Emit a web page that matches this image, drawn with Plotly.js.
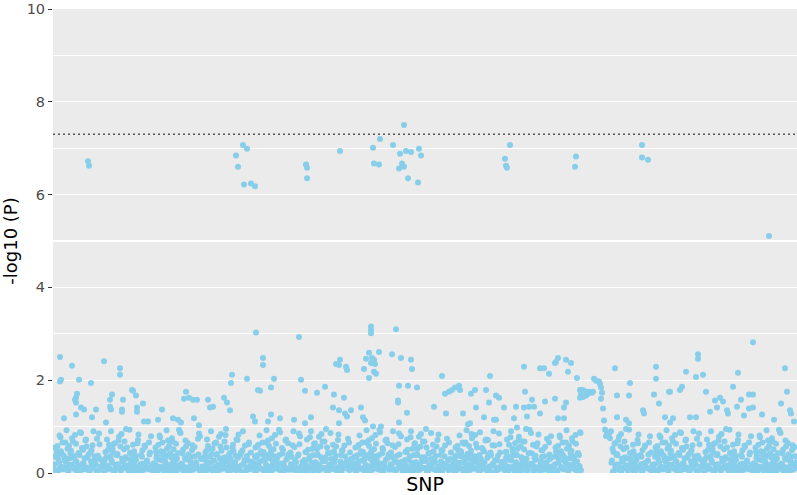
<!DOCTYPE html>
<html>
<head>
<meta charset="utf-8">
<script src="https://cdn.plot.ly/plotly-3.0.1.min.js"></script>
<style>html,body{margin:0;padding:0;background:#fff;}#chart{width:797px;height:495px;}</style>
</head>
<body>
<div id="chart"></div>
<script>
// SNP index (x) and -log10(P) (y)
const peakSnp = [70,72,366,370,380,388,382,396,404,506,508,508,574,640,654,642,652,680,702,694,706,716,698,702,692,710,732,736,730,914,904,906,908,1046,1044,1178,1178,1190,1432];
const peakP   = [6.72,6.62,6.84,6.60,7.07,6.99,6.22,6.24,6.18,6.65,6.58,6.35,6.94,7.01,7.20,6.67,6.65,7.07,7.50,6.88,6.94,6.92,6.67,6.60,6.56,6.35,6.99,6.84,6.26,7.07,6.77,6.62,6.58,6.82,6.60,7.07,6.80,6.75,5.11];

const midSnp = [14,38,16,14,52,76,102,134,134,158,160,166,140,118,114,114,116,138,138,48,46,44,46,56,62,46,22,78,86,106,168,168,180,182,190,210,218,240,250,256,266,262,272,280,288,282,292,310,314,320,342,348,354,358,356,
406,492,636,636,636,686,632,652,626,638,642,636,644,622,642,646,632,678,696,716,718,420,420,566,574,572,586,588,388,442,496,410,414,436,504,528,544,562,582,692,710,728,690,690,708,560,572,584,588,596,616,620,624,572,516,482,454,436,400,404,430,504,692,640,656,
778,874,942,974,982,992,1004,1010,1006,1026,1036,1030,1048,1082,1086,1092,1094,1096,1098,1096,1100,1054,1060,1068,1074,1080,1056,1062,1070,1078,1054,1060,1066,1124,762,786,784,792,798,804,812,814,820,836,844,866,872,846,886,892,902,926,944,958,942,952,962,922,928,948,974,984,1004,1026,1022,1010,1022,882,886,862,830,834,1102,1104,1108,1112,1106,1114,
1400,1290,1290,1206,1206,1266,1286,1300,1370,1464,1154,1152,1202,1212,1180,1182,1232,1234,1254,1258,1306,1324,1334,1340,1328,1314,1348,1350,1360,1376,1368,1392,1400,1392,1400,1382,1418,1442,1456,1468,1474,1476,1482,1224,1234,1240,1274,1286,1146,1152,1128,1128];
const midP = [2.50,2.31,2.01,1.97,2.01,1.94,2.41,2.26,2.12,1.79,1.77,1.67,1.58,1.69,1.58,1.43,1.37,1.37,1.32,1.71,1.62,1.58,1.52,1.41,1.37,1.26,1.18,1.20,1.37,1.09,1.41,1.32,1.50,1.11,1.11,1.15,1.37,1.18,1.15,1.09,1.75,1.60,1.62,1.58,1.58,1.18,1.03,1.58,1.41,1.43,1.62,1.52,1.35,2.12,1.94,
3.03,2.93,3.16,3.08,3.01,3.10,2.59,2.61,2.46,2.48,2.44,2.37,2.35,2.24,2.18,2.14,2.05,2.56,2.48,2.44,2.24,2.48,2.33,2.35,2.44,2.33,2.29,2.22,2.03,2.03,2.01,1.79,1.77,1.84,1.77,1.73,1.86,1.69,1.62,1.88,1.88,1.84,1.56,1.52,1.30,1.41,1.35,1.28,1.22,1.35,1.41,1.20,1.13,1.07,1.20,1.15,1.18,1.26,1.22,1.11,1.11,1.07,1.09,1.00,1.00,
2.09,2.09,2.29,2.26,2.26,2.14,2.37,2.48,2.39,2.44,2.37,2.18,2.05,2.03,1.99,1.97,1.92,1.84,1.73,1.60,1.39,1.79,1.79,1.75,1.75,1.75,1.71,1.69,1.71,1.73,1.62,1.64,1.67,2.26,1.43,1.28,1.71,1.75,1.79,1.84,1.88,1.79,1.28,1.71,1.79,1.79,1.52,1.41,1.67,1.62,1.41,1.43,1.75,1.58,1.41,1.43,1.43,1.18,0.98,1.22,1.28,1.54,1.60,1.52,1.41,1.18,1.18,1.15,1.15,1.20,1.05,1.07,1.13,0.94,0.88,0.85,0.80,0.75,
2.82,2.56,2.46,2.29,2.03,2.18,2.07,2.12,2.16,2.26,1.94,1.67,1.69,1.50,1.35,1.28,1.75,1.75,1.79,1.86,1.75,1.56,1.62,1.54,1.41,1.32,1.35,1.28,1.86,1.58,1.43,1.69,1.69,1.39,1.41,1.24,1.26,1.15,1.50,1.75,1.35,1.28,1.11,1.20,1.09,1.18,1.20,1.20,1.15,1.07,1.67,1.20];

// scattered SNPs in the 0.3 - 1.0 band
const bandSnp = [
5,8,13,16,19,24,27,32,35,38,43,46,54,60,65,71,79,92,
105,108,113,116,119,124,127,132,135,138,143,146,154,160,165,171,179,192,
205,208,213,216,219,224,227,232,235,238,243,246,254,260,265,271,279,292,
305,308,313,316,319,324,327,332,335,338,343,346,354,360,365,371,379,392,
405,408,413,416,419,424,427,432,435,438,443,446,454,460,465,471,479,492,
505,508,513,516,519,524,527,532,535,538,543,546,554,560,565,571,579,592,
605,608,613,616,619,624,627,632,635,638,643,646,654,660,665,671,679,692,
705,708,713,716,719,724,727,732,735,738,743,746,754,760,765,771,779,792,
805,808,813,816,819,824,827,832,835,838,843,846,854,860,865,871,879,892,
905,908,913,916,919,924,927,932,935,938,943,946,954,960,965,971,979,992,
1005,1008,1013,1016,1019,1024,1027,1032,1035,1038,1043,1046,1054,
1116,1119,1124,1127,1132,1135,1138,1143,1146,1154,1160,1165,1171,1179,1192,
1205,1208,1213,1216,1219,1224,1227,1232,1235,1238,1243,1246,1254,1260,1265,1271,1279,1292,
1305,1308,1313,1316,1319,1324,1327,1332,1335,1338,1343,1346,1354,1360,1365,1371,1379,1392,
1405,1408,1413,1416,1419,1424,1427,1432,1435,1438,1443,1446,1454,1460,1465,1471,1479
];
const bandP = [
0.55,0.38,0.81,0.47,0.66,0.33,0.92,0.58,0.42,0.75,0.36,0.63,0.88,0.5,0.7,0.4,0.6,0.85,
0.45,0.72,0.35,0.9,0.52,0.64,0.39,0.78,0.57,0.31,0.68,0.95,0.43,0.61,0.37,0.83,0.49,0.66,
0.55,0.38,0.81,0.47,0.66,0.33,0.92,0.58,0.42,0.75,0.36,0.63,0.88,0.5,0.7,0.4,0.6,0.85,
0.45,0.72,0.35,0.9,0.52,0.64,0.39,0.78,0.57,0.31,0.68,0.95,0.43,0.61,0.37,0.83,0.49,0.66,
0.55,0.38,0.81,0.47,0.66,0.33,0.92,0.58,0.42,0.75,0.36,0.63,0.88,0.5,0.7,0.4,0.6,0.85,
0.45,0.72,0.35,0.9,0.52,0.64,0.39,0.78,0.57,0.31,0.68,0.95,0.43,0.61,0.37,0.83,0.49,0.66,
0.55,0.38,0.81,0.47,0.66,0.33,0.92,0.58,0.42,0.75,0.36,0.63,0.88,0.5,0.7,0.4,0.6,0.85,
0.45,0.72,0.35,0.9,0.52,0.64,0.39,0.78,0.57,0.31,0.68,0.95,0.43,0.61,0.37,0.83,0.49,0.66,
0.55,0.38,0.81,0.47,0.66,0.33,0.92,0.58,0.42,0.75,0.36,0.63,0.88,0.5,0.7,0.4,0.6,0.85,
0.45,0.72,0.35,0.9,0.52,0.64,0.39,0.78,0.57,0.31,0.68,0.95,0.43,0.61,0.37,0.83,0.49,0.66,
0.55,0.38,0.81,0.47,0.66,0.33,0.92,0.58,0.42,0.75,0.36,0.63,0.88,
0.9,0.52,0.64,0.39,0.78,0.57,0.31,0.68,0.95,0.43,0.61,0.37,0.83,0.49,0.66,
0.55,0.38,0.81,0.47,0.66,0.33,0.92,0.58,0.42,0.75,0.36,0.63,0.88,0.5,0.7,0.4,0.6,0.85,
0.45,0.72,0.35,0.9,0.52,0.64,0.39,0.78,0.57,0.31,0.68,0.95,0.43,0.61,0.37,0.83,0.49,0.66,
0.55,0.38,0.81,0.47,0.66,0.33,0.92,0.58,0.42,0.75,0.36,0.63,0.88,0.5,0.7,0.4,0.6
];

const lowSnp = [
1,4,6,9,12,14,17,20,23,25,28,31,33,36,39,42,44,47,50,53,55,58,61,64,66,69,72,75,78,81,84,87,90,93,96,99,
2,3,7,10,11,15,18,21,22,26,29,30,34,37,40,41,45,48,51,52,56,59,62,63,67,70,73,76,77,80,83,86,88,91,94,97,
101,104,106,109,112,114,117,120,123,125,128,131,133,136,139,142,144,147,150,153,155,158,161,164,166,169,172,175,178,181,184,187,190,193,196,199,
102,103,107,110,111,115,118,121,122,126,129,130,134,137,140,141,145,148,151,152,156,159,162,163,167,170,173,176,177,180,183,186,188,191,194,197,
201,204,206,209,212,214,217,220,223,225,228,231,233,236,239,242,244,247,250,253,255,258,261,264,266,269,272,275,278,281,284,287,290,293,296,299,
202,203,207,210,211,215,218,221,222,226,229,230,234,237,240,241,245,248,251,252,256,259,262,263,267,270,273,276,277,280,283,286,288,291,294,297,
301,304,306,309,312,314,317,320,323,325,328,331,333,336,339,342,344,347,350,353,355,358,361,364,366,369,372,375,378,381,384,387,390,393,396,399,
302,303,307,310,311,315,318,321,322,326,329,330,334,337,340,341,345,348,351,352,356,359,362,363,367,370,373,376,377,380,383,386,388,391,394,397,
401,404,406,409,412,414,417,420,423,425,428,431,433,436,439,442,444,447,450,453,455,458,461,464,466,469,472,475,478,481,484,487,490,493,496,499,
402,403,407,410,411,415,418,421,422,426,429,430,434,437,440,441,445,448,451,452,456,459,462,463,467,470,473,476,477,480,483,486,488,491,494,497,
501,504,506,509,512,514,517,520,523,525,528,531,533,536,539,542,544,547,550,553,555,558,561,564,566,569,572,575,578,581,584,587,590,593,596,599,
502,503,507,510,511,515,518,521,522,526,529,530,534,537,540,541,545,548,551,552,556,559,562,563,567,570,573,576,577,580,583,586,588,591,594,597,
601,604,606,609,612,614,617,620,623,625,628,631,633,636,639,642,644,647,650,653,655,658,661,664,666,669,672,675,678,681,684,687,690,693,696,699,
602,603,607,610,611,615,618,621,622,626,629,630,634,637,640,641,645,648,651,652,656,659,662,663,667,670,673,676,677,680,683,686,688,691,694,697,
701,704,706,709,712,714,717,720,723,725,728,731,733,736,739,742,744,747,750,753,755,758,761,764,766,769,772,775,778,781,784,787,790,793,796,799,
702,703,707,710,711,715,718,721,722,726,729,730,734,737,740,741,745,748,751,752,756,759,762,763,767,770,773,776,777,780,783,786,788,791,794,797,
801,804,806,809,812,814,817,820,823,825,828,831,833,836,839,842,844,847,850,853,855,858,861,864,866,869,872,875,878,881,884,887,890,893,896,899,
802,803,807,810,811,815,818,821,822,826,829,830,834,837,840,841,845,848,851,852,856,859,862,863,867,870,873,876,877,880,883,886,888,891,894,897,
901,904,906,909,912,914,917,920,923,925,928,931,933,936,939,942,944,947,950,953,955,958,961,964,966,969,972,975,978,981,984,987,990,993,996,999,
902,903,907,910,911,915,918,921,922,926,929,930,934,937,940,941,945,948,951,952,956,959,962,963,967,970,973,976,977,980,983,986,988,991,994,997,
1001,1004,1006,1009,1012,1014,1017,1020,1023,1025,1028,1031,1033,1036,1039,1042,1044,1047,1050,1053,1055,
1002,1003,1007,1010,1011,1015,1018,1021,1022,1026,1029,1030,1034,1037,1040,1041,1045,1048,1051,1052,1056,
1117,1120,1123,1125,1128,1131,1133,1136,1139,1142,1144,1147,1150,1153,1155,1158,1161,1164,1166,1169,1172,1175,1178,1181,1184,1187,1190,1193,1196,1199,
1118,1121,1122,1126,1129,1130,1134,1137,1140,1141,1145,1148,1151,1152,1156,1159,1162,1163,1167,1170,1173,1176,1177,1180,1183,1186,1188,1191,1194,1197,
1201,1204,1206,1209,1212,1214,1217,1220,1223,1225,1228,1231,1233,1236,1239,1242,1244,1247,1250,1253,1255,1258,1261,1264,1266,1269,1272,1275,1278,1281,1284,1287,1290,1293,1296,1299,
1202,1203,1207,1210,1211,1215,1218,1221,1222,1226,1229,1230,1234,1237,1240,1241,1245,1248,1251,1252,1256,1259,1262,1263,1267,1270,1273,1276,1277,1280,1283,1286,1288,1291,1294,1297,
1301,1304,1306,1309,1312,1314,1317,1320,1323,1325,1328,1331,1333,1336,1339,1342,1344,1347,1350,1353,1355,1358,1361,1364,1366,1369,1372,1375,1378,1381,1384,1387,1390,1393,1396,1399,
1302,1303,1307,1310,1311,1315,1318,1321,1322,1326,1329,1330,1334,1337,1340,1341,1345,1348,1351,1352,1356,1359,1362,1363,1367,1370,1373,1376,1377,1380,1383,1386,1388,1391,1394,1397,
1401,1404,1406,1409,1412,1414,1417,1420,1423,1425,1428,1431,1433,1436,1439,1442,1444,1447,1450,1453,1455,1458,1461,1464,1466,1469,1472,1475,1478,1481,1484,1487,
1402,1403,1407,1410,1411,1415,1418,1421,1422,1426,1429,1430,1434,1437,1440,1441,1445,1448,1451,1452,1456,1459,1462,1463,1467,1470,1473,1476,1477,1480,1483,1486,1488
];
const lowP = [
0.12,0.35,0.05,0.58,0.22,0.1,0.41,0.08,0.27,0.66,0.15,0.04,0.31,0.48,0.18,0.09,0.82,0.25,0.13,0.39,0.06,0.54,0.21,0.11,0.72,0.33,0.07,0.44,0.16,0.9,0.28,0.05,0.37,0.62,0.14,0.24,
0.07,0.19,0.46,0.03,0.29,0.77,0.13,0.38,0.09,0.23,0.52,0.06,0.17,0.34,0.68,0.11,0.26,0.04,0.43,0.15,0.86,0.2,0.08,0.32,0.57,0.12,0.03,0.25,0.49,0.1,0.36,0.18,0.74,0.06,0.3,0.14,
0.21,0.06,0.33,0.14,0.61,0.09,0.27,0.45,0.04,0.18,0.38,0.7,0.12,0.05,0.24,0.51,0.16,0.31,0.08,0.93,0.2,0.42,0.03,0.13,0.29,0.64,0.1,0.19,0.35,0.07,0.56,0.23,0.11,0.4,0.79,0.05,
0.04,0.28,0.16,0.5,0.09,0.36,0.22,0.03,0.63,0.13,0.41,0.19,0.07,0.84,0.26,0.11,0.34,0.55,0.05,0.17,0.3,0.1,0.47,0.23,0.06,0.71,0.14,0.39,0.02,0.2,0.59,0.12,0.27,0.08,0.44,0.18,
0.07,0.19,0.46,0.03,0.29,0.77,0.13,0.38,0.09,0.23,0.52,0.06,0.17,0.34,0.68,0.11,0.26,0.04,0.43,0.15,0.86,0.2,0.08,0.32,0.57,0.12,0.03,0.25,0.49,0.1,0.36,0.18,0.74,0.06,0.3,0.14,
0.21,0.06,0.33,0.14,0.61,0.09,0.27,0.45,0.04,0.18,0.38,0.7,0.12,0.05,0.24,0.51,0.16,0.31,0.08,0.93,0.2,0.42,0.03,0.13,0.29,0.64,0.1,0.19,0.35,0.07,0.56,0.23,0.11,0.4,0.79,0.05,
0.04,0.28,0.16,0.5,0.09,0.36,0.22,0.03,0.63,0.13,0.41,0.19,0.07,0.84,0.26,0.11,0.34,0.55,0.05,0.17,0.3,0.1,0.47,0.23,0.06,0.71,0.14,0.39,0.02,0.2,0.59,0.12,0.27,0.08,0.44,0.18,
0.12,0.35,0.05,0.58,0.22,0.1,0.41,0.08,0.27,0.66,0.15,0.04,0.31,0.48,0.18,0.09,0.82,0.25,0.13,0.39,0.06,0.54,0.21,0.11,0.72,0.33,0.07,0.44,0.16,0.9,0.28,0.05,0.37,0.62,0.14,0.24,
0.12,0.35,0.05,0.58,0.22,0.1,0.41,0.08,0.27,0.66,0.15,0.04,0.31,0.48,0.18,0.09,0.82,0.25,0.13,0.39,0.06,0.54,0.21,0.11,0.72,0.33,0.07,0.44,0.16,0.9,0.28,0.05,0.37,0.62,0.14,0.24,
0.21,0.06,0.33,0.14,0.61,0.09,0.27,0.45,0.04,0.18,0.38,0.7,0.12,0.05,0.24,0.51,0.16,0.31,0.08,0.93,0.2,0.42,0.03,0.13,0.29,0.64,0.1,0.19,0.35,0.07,0.56,0.23,0.11,0.4,0.79,0.05,
0.07,0.19,0.46,0.03,0.29,0.77,0.13,0.38,0.09,0.23,0.52,0.06,0.17,0.34,0.68,0.11,0.26,0.04,0.43,0.15,0.86,0.2,0.08,0.32,0.57,0.12,0.03,0.25,0.49,0.1,0.36,0.18,0.74,0.06,0.3,0.14,
0.04,0.28,0.16,0.5,0.09,0.36,0.22,0.03,0.63,0.13,0.41,0.19,0.07,0.84,0.26,0.11,0.34,0.55,0.05,0.17,0.3,0.1,0.47,0.23,0.06,0.71,0.14,0.39,0.02,0.2,0.59,0.12,0.27,0.08,0.44,0.18,
0.21,0.06,0.33,0.14,0.61,0.09,0.27,0.45,0.04,0.18,0.38,0.7,0.12,0.05,0.24,0.51,0.16,0.31,0.08,0.93,0.2,0.42,0.03,0.13,0.29,0.64,0.1,0.19,0.35,0.07,0.56,0.23,0.11,0.4,0.79,0.05,
0.12,0.35,0.05,0.58,0.22,0.1,0.41,0.08,0.27,0.66,0.15,0.04,0.31,0.48,0.18,0.09,0.82,0.25,0.13,0.39,0.06,0.54,0.21,0.11,0.72,0.33,0.07,0.44,0.16,0.9,0.28,0.05,0.37,0.62,0.14,0.24,
0.04,0.28,0.16,0.5,0.09,0.36,0.22,0.03,0.63,0.13,0.41,0.19,0.07,0.84,0.26,0.11,0.34,0.55,0.05,0.17,0.3,0.1,0.47,0.23,0.06,0.71,0.14,0.39,0.02,0.2,0.59,0.12,0.27,0.08,0.44,0.18,
0.07,0.19,0.46,0.03,0.29,0.77,0.13,0.38,0.09,0.23,0.52,0.06,0.17,0.34,0.68,0.11,0.26,0.04,0.43,0.15,0.86,0.2,0.08,0.32,0.57,0.12,0.03,0.25,0.49,0.1,0.36,0.18,0.74,0.06,0.3,0.14,
0.12,0.35,0.05,0.58,0.22,0.1,0.41,0.08,0.27,0.66,0.15,0.04,0.31,0.48,0.18,0.09,0.82,0.25,0.13,0.39,0.06,0.54,0.21,0.11,0.72,0.33,0.07,0.44,0.16,0.9,0.28,0.05,0.37,0.62,0.14,0.24,
0.04,0.28,0.16,0.5,0.09,0.36,0.22,0.03,0.63,0.13,0.41,0.19,0.07,0.84,0.26,0.11,0.34,0.55,0.05,0.17,0.3,0.1,0.47,0.23,0.06,0.71,0.14,0.39,0.02,0.2,0.59,0.12,0.27,0.08,0.44,0.18,
0.21,0.06,0.33,0.14,0.61,0.09,0.27,0.45,0.04,0.18,0.38,0.7,0.12,0.05,0.24,0.51,0.16,0.31,0.08,0.93,0.2,0.42,0.03,0.13,0.29,0.64,0.1,0.19,0.35,0.07,0.56,0.23,0.11,0.4,0.79,0.05,
0.07,0.19,0.46,0.03,0.29,0.77,0.13,0.38,0.09,0.23,0.52,0.06,0.17,0.34,0.68,0.11,0.26,0.04,0.43,0.15,0.86,0.2,0.08,0.32,0.57,0.12,0.03,0.25,0.49,0.1,0.36,0.18,0.74,0.06,0.3,0.14,
0.07,0.19,0.46,0.03,0.29,0.77,0.13,0.38,0.09,0.23,0.52,0.06,0.17,0.34,0.68,0.11,0.26,0.04,0.43,0.15,0.86,
0.12,0.35,0.05,0.58,0.22,0.1,0.41,0.08,0.27,0.66,0.15,0.04,0.31,0.48,0.18,0.09,0.82,0.25,0.13,0.39,0.06,
0.22,0.03,0.63,0.13,0.41,0.19,0.07,0.84,0.26,0.11,0.34,0.55,0.05,0.17,0.3,0.1,0.47,0.23,0.06,0.71,0.14,0.39,0.02,0.2,0.59,0.12,0.27,0.08,0.44,0.18,
0.27,0.45,0.04,0.18,0.38,0.7,0.12,0.05,0.24,0.51,0.16,0.31,0.08,0.93,0.2,0.42,0.03,0.13,0.29,0.64,0.1,0.19,0.35,0.07,0.56,0.23,0.11,0.4,0.79,0.05,
0.12,0.35,0.05,0.58,0.22,0.1,0.41,0.08,0.27,0.66,0.15,0.04,0.31,0.48,0.18,0.09,0.82,0.25,0.13,0.39,0.06,0.54,0.21,0.11,0.72,0.33,0.07,0.44,0.16,0.9,0.28,0.05,0.37,0.62,0.14,0.24,
0.07,0.19,0.46,0.03,0.29,0.77,0.13,0.38,0.09,0.23,0.52,0.06,0.17,0.34,0.68,0.11,0.26,0.04,0.43,0.15,0.86,0.2,0.08,0.32,0.57,0.12,0.03,0.25,0.49,0.1,0.36,0.18,0.74,0.06,0.3,0.14,
0.21,0.06,0.33,0.14,0.61,0.09,0.27,0.45,0.04,0.18,0.38,0.7,0.12,0.05,0.24,0.51,0.16,0.31,0.08,0.93,0.2,0.42,0.03,0.13,0.29,0.64,0.1,0.19,0.35,0.07,0.56,0.23,0.11,0.4,0.79,0.05,
0.04,0.28,0.16,0.5,0.09,0.36,0.22,0.03,0.63,0.13,0.41,0.19,0.07,0.84,0.26,0.11,0.34,0.55,0.05,0.17,0.3,0.1,0.47,0.23,0.06,0.71,0.14,0.39,0.02,0.2,0.59,0.12,0.27,0.08,0.44,0.18,
0.07,0.19,0.46,0.03,0.29,0.77,0.13,0.38,0.09,0.23,0.52,0.06,0.17,0.34,0.68,0.11,0.26,0.04,0.43,0.15,0.86,0.2,0.08,0.32,0.57,0.12,0.03,0.25,0.49,0.1,0.36,0.18,
0.21,0.06,0.33,0.14,0.61,0.09,0.27,0.45,0.04,0.18,0.38,0.7,0.12,0.05,0.24,0.51,0.16,0.31,0.08,0.93,0.2,0.42,0.03,0.13,0.29,0.64,0.1,0.19,0.35,0.07,0.56,0.23,0.11
];

const yTicks = [0, 2, 4, 6, 8, 10];
const snpRange = [0, 1488];
const threshold = -Math.log10(5e-8);

const allSnp = lowSnp.concat(bandSnp, midSnp, peakSnp);
const allP = lowP.concat(bandP, midP, peakP);

const trace = {
  type: 'scatter', mode: 'markers',
  x: allSnp, y: allP,
  marker: {color: '#87CEEB', size: 6, line: {width: 0}},
  hoverinfo: 'skip', showlegend: false
};

const layout = {
  width: 797, height: 495,
  margin: {l: 53, r: 0, t: 9, b: 22, pad: 0},
  paper_bgcolor: '#FFFFFF',
  plot_bgcolor: '#EBEBEB',
  font: {family: 'DejaVu Sans, sans-serif', color: '#000'},
  showlegend: false,
  xaxis: {
    range: snpRange, showgrid: false, zeroline: false, showline: false,
    showticklabels: false, ticks: '', fixedrange: true,
    title: {text: 'SNP', font: {size: 19, color: '#000'}, standoff: 4}
  },
  yaxis: {
    range: [0, 10], tickvals: yTicks, ticktext: yTicks.map(String),
    ticks: 'outside', ticklen: 4, tickwidth: 1, tickcolor: '#333333',
    tickfont: {size: 14.5, color: '#4D4D4D'}, ticklabeloverflow: 'allow',
    showgrid: true, gridcolor: '#FFFFFF', gridwidth: 1.3,
    zeroline: false, showline: false, fixedrange: true,
    minor: {dtick: 1, tick0: 0, showgrid: true, gridcolor: '#FFFFFF', gridwidth: 1.1, ticks: ''},
    title: {text: '-log10 (P)', font: {size: 18, color: '#000'}, standoff: 13}
  },
  shapes: [{
    type: 'line', xref: 'paper', yref: 'y', x0: 0, x1: 1, y0: threshold, y1: threshold,
    line: {color: '#555555', width: 1.3, dash: '2px,3px'}
  }]
};

Plotly.newPlot('chart', [trace], layout, {displayModeBar: false, staticPlot: true});
</script>
</body>
</html>
